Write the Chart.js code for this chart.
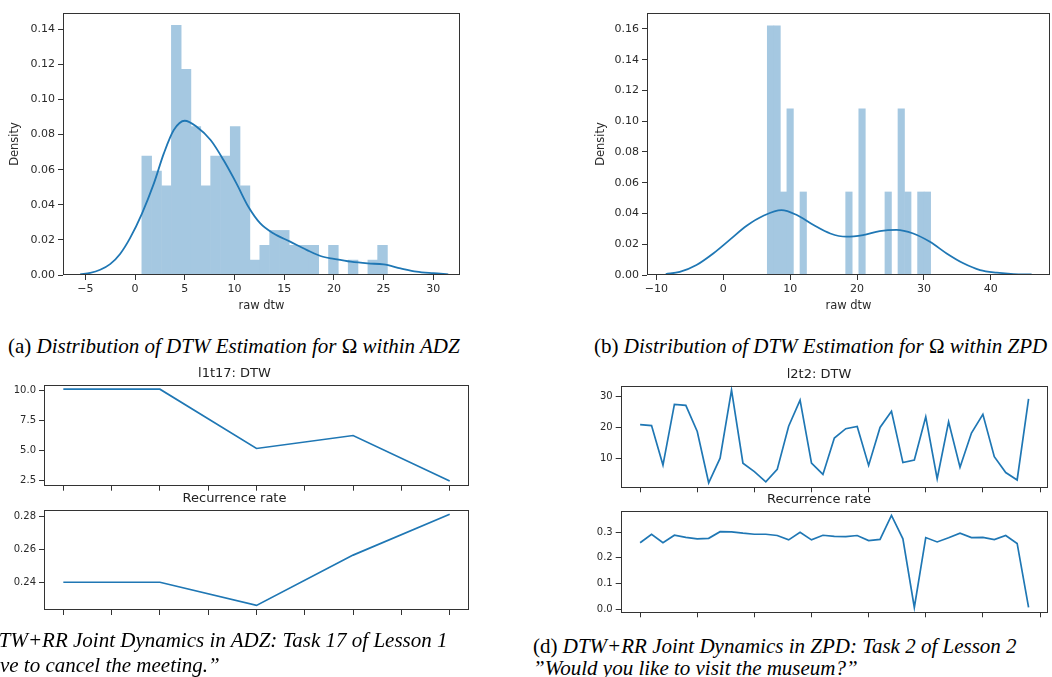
<!DOCTYPE html>
<html>
<head>
<meta charset="utf-8">
<script src="https://cdn.jsdelivr.net/npm/chart.js@4.4.0/dist/chart.umd.min.js"></script>
<style>
  body { margin: 0; background: #fff; width: 1052px; height: 677px; position: relative; overflow: hidden; }
  .box { position: absolute; }
  .cap { position: absolute; font-family: "Liberation Serif", "Times New Roman", serif; font-size: 21px; line-height: 25px;
         font-style: italic; color: #000; white-space: nowrap; }
  .cap .up { font-style: normal; }
</style>
</head>
<body>
<div class="box" style="left:8px;top:1px;width:454px;height:312px"><canvas id="histA"></canvas></div>
<div class="box" style="left:594px;top:1px;width:458px;height:312px"><canvas id="histB"></canvas></div>
<div class="box" style="left:0px;top:366px;width:471px;height:132px"><canvas id="dtwC"></canvas></div>
<div class="box" style="left:0px;top:491px;width:471px;height:131px"><canvas id="rrC"></canvas></div>
<div class="box" style="left:590px;top:367px;width:460px;height:132px"><canvas id="dtwD"></canvas></div>
<div class="box" style="left:590px;top:492px;width:460px;height:132px"><canvas id="rrD"></canvas></div>

<div class="cap" style="left:8px;top:334px"><span class="up">(a)</span> Distribution of DTW Estimation for <span class="up">Ω</span> within ADZ</div>
<div class="cap" style="left:594px;top:334px"><span class="up">(b)</span> Distribution of DTW Estimation for <span class="up">Ω</span> within ZPD</div>
<div class="cap" style="left:-45px;top:628px"><span class="up">(c)</span> DTW+RR Joint Dynamics in ADZ: Task 17 of Lesson 1<br>”I have to cancel the meeting.”</div>
<div class="cap" style="left:533px;top:635px;line-height:22px"><span class="up">(d)</span> DTW+RR Joint Dynamics in ZPD: Task 2 of Lesson 2<br>”Would you like to visit the museum?”</div>

<script>
// (a) ADZ: histogram bins (centres) and densities, plus the kde curve
const binsA = [1.18, 2.17, 3.16, 4.15, 5.13, 6.12, 7.11, 8.10, 9.09, 10.07, 11.06, 12.05, 13.04,
               14.03, 15.01, 16.00, 16.99, 17.98, 18.97, 19.95, 20.94, 21.93, 22.92, 23.91, 24.89];
const densA = [0.0677, 0.0592, 0.0508, 0.1423, 0.1172, 0.0846, 0.0508, 0.0677, 0.0677, 0.0846, 0.0508, 0.0085, 0.0169,
               0.0254, 0.0254, 0.0169, 0.0169, 0.0169, 0, 0.0169, 0, 0.0085, 0, 0.0085, 0.0169];
const kdeAx = [-5.5, -4.5, -3.5, -2.5, -1.5, -0.5, 0.7, 1.9, 2.9, 3.9, 5.0, 6.2, 7.6, 8.9, 10.2, 11.4, 12.6,
               13.9, 15.6, 17.3, 18.9, 20.0, 21.7, 23.4, 25.0, 26.7, 28.3, 30.0, 31.5];
const kdeAy = [0.0005, 0.0012, 0.003, 0.0062, 0.012, 0.021, 0.035, 0.0522, 0.0693, 0.0826, 0.0879, 0.0845, 0.0769,
               0.0655, 0.0522, 0.0389, 0.0294, 0.0238, 0.019, 0.0142, 0.0104, 0.0092, 0.0076, 0.0066, 0.006,
               0.0038, 0.0019, 0.001, 0.0004];

// (b) ZPD
const binsB = [7.07, 8.05, 9.02, 10.00, 10.98, 11.96, 12.93, 13.91, 14.89, 15.86, 16.84, 17.82, 18.79,
               19.77, 20.75, 21.73, 22.70, 23.68, 24.66, 25.63, 26.61, 27.59, 28.57, 29.54, 30.52];
const densB = [0.162, 0.162, 0.054, 0.108, 0, 0.054, 0, 0, 0, 0, 0, 0, 0.054,
               0, 0.108, 0, 0, 0, 0.054, 0, 0.108, 0.054, 0, 0.054, 0.054];
const kdeBx = [-8.6, -6.5, -4.0, -1.5, 1.0, 3.5, 6.0, 8.7, 11.0, 13.5, 16.0, 18.4, 20.9, 23.4, 25.9,
               28.4, 30.9, 33.4, 35.9, 38.4, 40.9, 43.4, 46.1];
const kdeBy = [0.0006, 0.002, 0.0065, 0.014, 0.023, 0.032, 0.0385, 0.0422, 0.039, 0.0325, 0.027, 0.0249, 0.026,
               0.0286, 0.0294, 0.027, 0.0216, 0.014, 0.0076, 0.0032, 0.0015, 0.0006, 0.0004];

// (c) l1t17
const stepsC = [0, 1, 2, 3, 4];
const dtwC = [10.08, 10.08, 5.14, 6.22, 2.42];
const rrC = [0.240, 0.240, 0.2259, 0.2565, 0.2814];

// (d) l2t2
const stepsD = [0, 1, 2, 3, 4, 5, 6, 7, 8, 9, 10, 11, 12, 13, 14, 15, 16, 17, 18, 19, 20, 21, 22, 23, 24,
                25, 26, 27, 28, 29, 30, 31, 32, 33, 34];
const dtwD = [20.8, 20.5, 7.8, 27.3, 27.0, 18.6, 2.1, 10.0, 31.9, 8.4, 5.7, 2.4, 6.4, 20.3, 28.7, 8.4, 4.8,
              16.5, 19.5, 20.2, 7.7, 19.9, 25.1, 8.6, 9.4, 23.3, 3.4, 21.7, 7.1, 18.1, 24.1, 10.5, 5.4, 3.0, 29.1];
const rrD = [0.259, 0.292, 0.259, 0.288, 0.280, 0.274, 0.276, 0.302, 0.301, 0.296, 0.292, 0.292, 0.287, 0.270,
             0.300, 0.270, 0.288, 0.284, 0.283, 0.287, 0.267, 0.272, 0.365, 0.274, 0.007, 0.279, 0.262, 0.278,
             0.296, 0.279, 0.280, 0.271, 0.287, 0.256, 0.007];

// tick labels
const xTicksA = [-5, 0, 5, 10, 15, 20, 25, 30];
const xTicksB = [-10, 0, 10, 20, 30, 40];
const yTicksHist = [0, 0.02, 0.04, 0.06, 0.08, 0.10, 0.12, 0.14, 0.16];
const xTicksC = [0, 0.5, 1, 1.5, 2, 2.5, 3, 3.5, 4];
const yTicksDtwC = [2.5, 5, 7.5, 10];
const yTicksRrC = [0.24, 0.26, 0.28];
const xTicksD = [0, 5, 10, 15, 20, 25, 30, 35];
const yTicksDtwD = [10, 20, 30];
const yTicksRrD = [0, 0.1, 0.2, 0.3];

const blue = '#1f77b4';
const histFill = '#a5c8e1'; // blue at 40% on white
const ink = '#2a2a2a';
Chart.defaults.font.family = "'DejaVu Sans', sans-serif";
Chart.defaults.color = ink;
Chart.defaults.animation = false;

// matplotlib style frame round the plot area
const frame = {
    id: 'frame',
    afterDraw(chart) {
        const {ctx, chartArea: a} = chart;
        ctx.save();
        ctx.strokeStyle = '#333';
        ctx.lineWidth = 1;
        ctx.strokeRect(Math.round(a.left) + 0.5, Math.round(a.top) + 0.5,
                       Math.round(a.right - a.left) - 1, Math.round(a.bottom - a.top) - 1);
        ctx.restore();
    }
};

function axis(min, max, ticks, size, fmt, fit, showLabels, title) {
    return {
        type: 'linear', min: min, max: max, offset: false,
        border: { display: false },
        grid: { offset: false, drawOnChartArea: false, drawTicks: true, tickLength: 5, color: '#333' },
        ticks: { display: showLabels, font: { size: size }, padding: 3, color: ink,
                 autoSkip: false, maxRotation: 0, callback: v => fmt(v) },
        title: title ? { display: true, text: title, font: { size: 11.5 }, padding: 0, color: ink } : { display: false },
        afterBuildTicks: s => { s.ticks = ticks.map(v => ({ value: v })); },
        afterFit: fit
    };
}

function pairs(xs, ys) {
    return xs.map((x, i) => ({ x: x, y: ys[i] }));
}

function histChart(id, bins, dens, kx, ky, xr, xTicks, yMax, yW) {
    new Chart(document.getElementById(id), {
        type: 'line',
        data: {
            datasets: [
                { type: 'line', data: pairs(kx, ky), borderColor: blue, borderWidth: 1.8, pointRadius: 0,
                  cubicInterpolationMode: 'monotone', order: 0 },
                { type: 'bar', data: pairs(bins, dens), backgroundColor: histFill, borderWidth: 0,
                  barPercentage: 1, categoryPercentage: 1, order: 1 }
            ]
        },
        options: {
            responsive: true, maintainAspectRatio: false,
            layout: { padding: { top: 12, right: 2, bottom: 0, left: 0 } },
            plugins: { legend: { display: false }, tooltip: { enabled: false } },
            scales: {
                x: axis(xr[0], xr[1], xTicks, 11, v => String(v).replace('-', '\u2212'), s => { s.height = 38; }, true, 'raw dtw'),
                y: axis(0, yMax, yTicksHist.filter(v => v <= yMax), 11, v => v.toFixed(2), s => { s.width = yW; }, true, 'Density')
            }
        },
        plugins: [frame]
    });
}

function seriesChart(id, title, xs, ys, xr, xTicks, yr, yT, fmt, yW, xH) {
    new Chart(document.getElementById(id), {
        type: 'line',
        data: { datasets: [{ data: pairs(xs, ys), borderColor: blue, borderWidth: 1.7, pointRadius: 0, tension: 0 }] },
        options: {
            responsive: true, maintainAspectRatio: false,
            layout: { padding: { top: 0, right: 2, bottom: 0, left: 0 } },
            plugins: {
                legend: { display: false }, tooltip: { enabled: false },
                title: { display: true, text: title, color: '#222', font: { size: 13, weight: 'normal' },
                         padding: { top: 0, bottom: 3 } }
            },
            scales: {
                x: axis(xr[0], xr[1], xTicks, 10, v => '', s => { s.height = xH; }, false),
                y: axis(yr[0], yr[1], yT, 10, fmt, s => { s.width = yW; }, true)
            }
        },
        plugins: [frame]
    });
}

window.onload = () => {
    histChart('histA', binsA, densA, kdeAx, kdeAy, [-7.24, 32.68], xTicksA, 0.1493, 55);
    histChart('histB', binsB, densB, kdeBx, kdeBy, [-11.4, 48.85], xTicksB, 0.1704, 53);

    seriesChart('dtwC', 'l1t17: DTW', stepsC, dtwC, [-0.2, 4.2], xTicksC, [2.037, 10.463], yTicksDtwC,
                v => v.toFixed(1), 44, 12.3);
    seriesChart('rrC', 'Recurrence rate', stepsC, rrC, [-0.2, 4.2], xTicksC, [0.2231, 0.2842], yTicksRrC,
                v => v.toFixed(2), 44, 12);
    seriesChart('dtwD', 'l2t2: DTW', stepsD, dtwD, [-1.7, 35.7], xTicksD, [0.65, 33.35], yTicksDtwD,
                v => String(v), 30.7, 11.7);
    seriesChart('rrD', 'Recurrence rate', stepsD, rrD, [-1.7, 35.7], xTicksD, [-0.012, 0.384], yTicksRrD,
                v => v.toFixed(1), 30.7, 11.7);
};
</script>
</body>
</html>
